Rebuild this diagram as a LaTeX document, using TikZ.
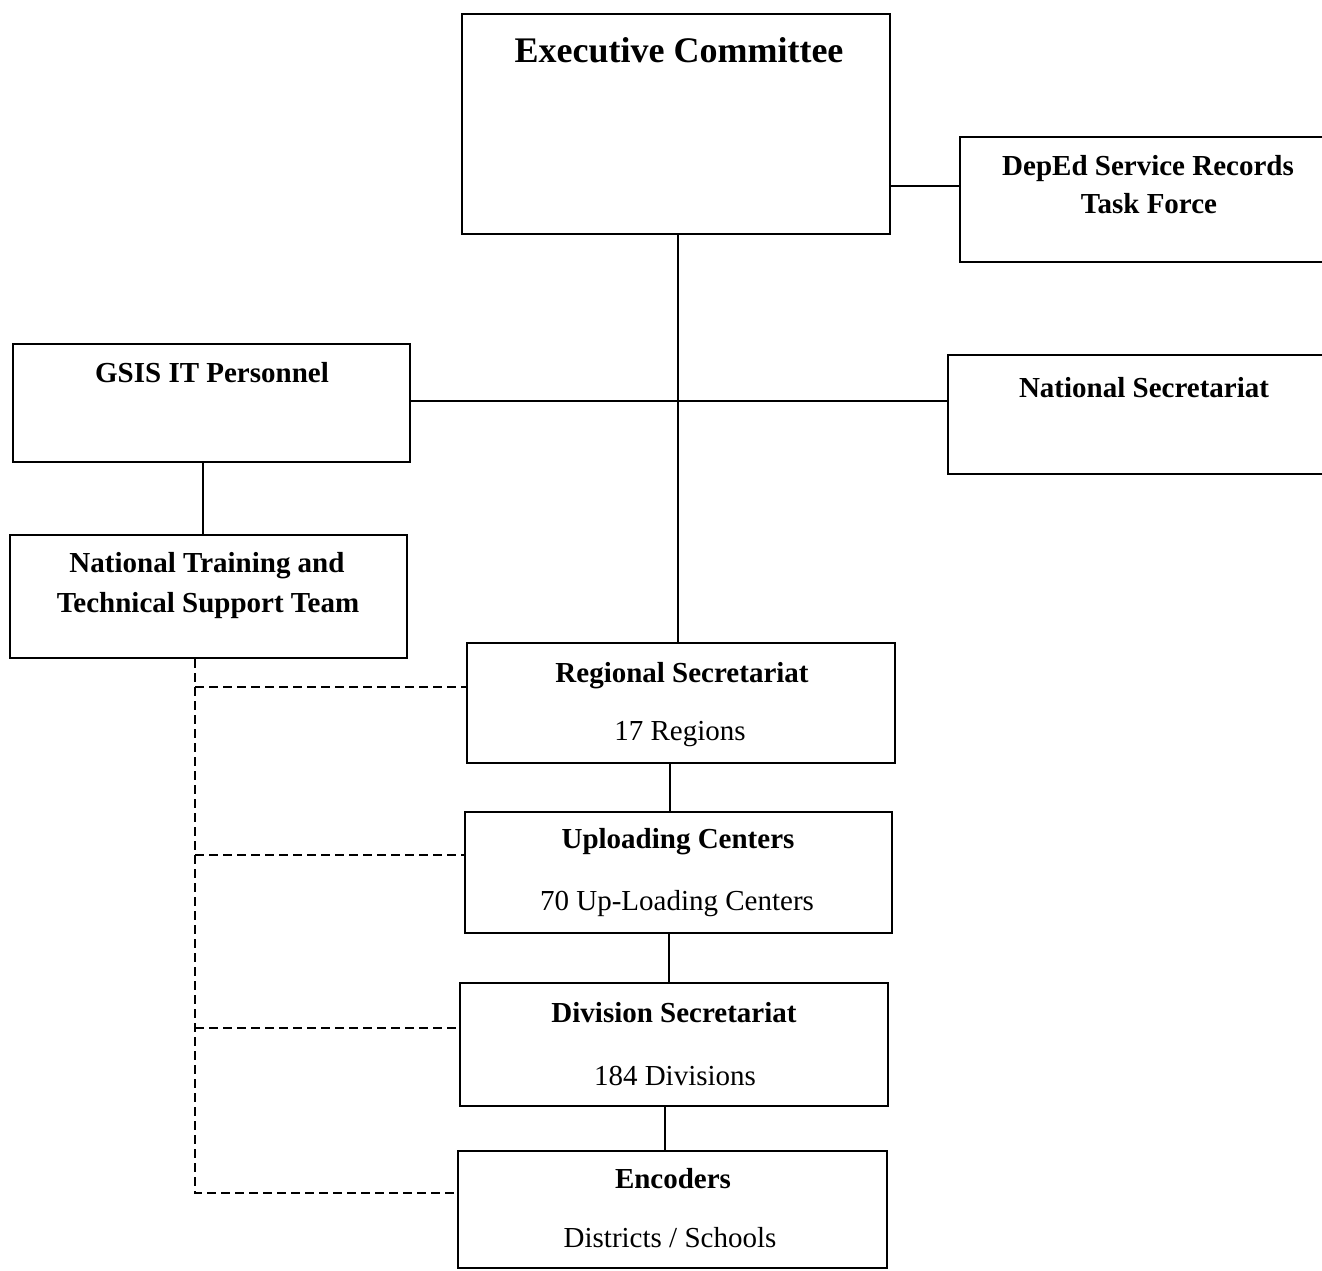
\documentclass[tikz,border=0pt]{standalone}
\usepackage{fontspec}
\setmainfont{Liberation Serif}
\begin{document}
\begin{tikzpicture}[x=1pt,y=-1pt,
  box/.style={draw=black, line width=2.4pt, rectangle, inner sep=0pt},
  conn/.style={draw=black, line width=2pt},
  dashconn/.style={draw=black, line width=2pt, dash pattern=on 9pt off 5pt},
  bold/.style={font=\fontsize{29}{37}\selectfont\bfseries, inner sep=0pt, anchor=base},
  plain/.style={font=\fontsize{29}{37}\selectfont, inner sep=0pt, anchor=base},
  title/.style={font=\fontsize{36}{42}\selectfont\bfseries, inner sep=0pt, anchor=base}]
\path[use as bounding box] (0,0) rectangle (1322,1270);
\clip (0,0) rectangle (1322,1270);
\fill[white] (0,0) rectangle (1322,1270);

% boxes
\node[box, minimum width=428pt, minimum height=220pt] (exec) at (676,124) {};
\node[box, minimum width=378pt, minimum height=125pt] (deped) at (1149,199.5) {};
\node[box, minimum width=390pt, minimum height=119pt] (natsec) at (1143,414.5) {};
\node[box, minimum width=397pt, minimum height=118pt] (gsis) at (211.5,403) {};
\node[box, minimum width=397pt, minimum height=123pt] (nttst) at (208.5,596.5) {};
\node[box, minimum width=428pt, minimum height=120pt] (regional) at (681,703) {};
\node[box, minimum width=427pt, minimum height=121pt] (upload) at (678.5,872.5) {};
\node[box, minimum width=428pt, minimum height=123pt] (division) at (674,1044.5) {};
\node[box, minimum width=429pt, minimum height=117pt] (encoders) at (672.5,1209.5) {};

% labels
\node[title] (exect) at (679,62) {Executive Committee};
\node[bold] (deped1) at (1148,175) {DepEd Service Records};
\node[bold] (deped2) at (1149,213) {Task Force};
\node[bold] (natsect) at (1144,397) {National Secretariat};
\node[bold] (gsist) at (212,382) {GSIS IT Personnel};
\node[bold] (nttst1) at (207,572) {National Training and};
\node[bold] (nttst2) at (208,612) {Technical Support Team};
\node[bold] (regional1) at (682,682) {Regional Secretariat};
\node[plain] (regional2) at (680,740) {17 Regions};
\node[bold] (upload1) at (678,848) {Uploading Centers};
\node[plain] (upload2) at (677,910) {70 Up-Loading Centers};
\node[bold] (division1) at (674,1022) {Division Secretariat};
\node[plain] (division2) at (675,1085) {184 Divisions};
\node[bold] (encoders1) at (673,1188) {Encoders};
\node[plain] (encoders2) at (670,1247) {Districts / Schools};

% solid connectors
\draw[conn] (exec.east |- 0,186) -- (deped.west |- 0,186);
\draw[conn] ([xshift=2pt]exec.south) -- ([xshift=2pt]exec.south |- regional.north);
\draw[conn] (gsis.east |- 0,401) -- (natsec.west |- 0,401);
\draw[conn] ([xshift=-9pt]gsis.south) -- ([xshift=-9pt]gsis.south |- nttst.north);
\draw[conn] ([xshift=-11pt]regional.south) -- ([xshift=-11pt]regional.south |- upload.north);
\draw[conn] ([xshift=-10pt]upload.south) -- ([xshift=-10pt]upload.south |- division.north);
\draw[conn] ([xshift=-9pt]division.south) -- ([xshift=-9pt]division.south |- encoders.north);

% dashed connectors
\coordinate (dtop) at ([xshift=-13.5pt]nttst.south);
\draw[dashconn] (dtop) -- (dtop |- 0,1193) -- (encoders.west |- 0,1193);
\draw[dashconn] (dtop |- 0,687) -- (regional.west |- 0,687);
\draw[dashconn] (dtop |- 0,855) -- (upload.west |- 0,855);
\draw[dashconn] (dtop |- 0,1028) -- (division.west |- 0,1028);
\end{tikzpicture}
\end{document}
